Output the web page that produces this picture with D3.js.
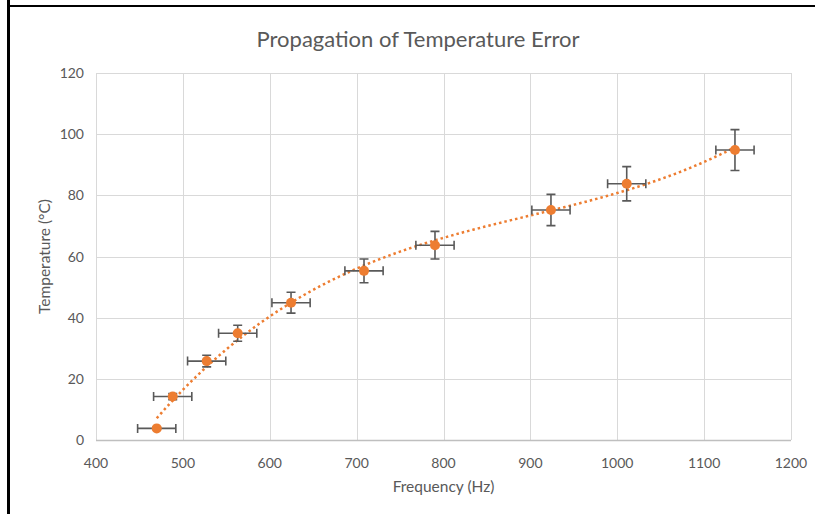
<!DOCTYPE html>
<html>
<head>
<meta charset="utf-8">
<script src="https://cdn.jsdelivr.net/npm/d3@7"></script>
<style>
  html, body { margin: 0; padding: 0; background: #fff; }
  svg { display: block; font-family: Lato, "Open Sans", sans-serif; }
  .grid line { stroke: #d9d9d9; stroke-width: 1; }
  .tick-label { fill: #595959; font-size: 14px; }
  .axis-title { fill: #595959; font-size: 15.5px; }
  .title { fill: #595959; font-size: 22px; }
</style>
</head>
<body>
<div id="chart"></div>
<script>
// values
const freq = [469.9, 488.3, 527.4, 563.1, 624.5, 708.5, 790.2, 923.7, 1010.9, 1135.5]
const temp = [3.8, 14.2, 25.8, 34.9, 44.9, 55.3, 63.7, 75.2, 83.8, 94.8]
const freqErr = [22, 22, 22, 22, 22, 22, 22, 22, 22, 22]
const tempErr = [0.3, 1.0, 1.9, 2.6, 3.4, 3.9, 4.5, 5.1, 5.6, 6.7]
const xTicks = [400, 500, 600, 700, 800, 900, 1000, 1100, 1200]
const yTicks = [0, 20, 40, 60, 80, 100, 120]

const width = 815, height = 514
const margin = { left: 96, right: 24, top: 73, bottom: 74 }

const svg = d3.select('#chart').append('svg')
  .attr('width', width)
  .attr('height', height)

const x = d3.scaleLinear().domain([400, 1200]).range([margin.left, width - margin.right])
const y = d3.scaleLinear().domain([0, 120]).range([height - margin.bottom, margin.top])

// frame (black edges of the screenshot)
svg.append('line').attr('x1', 8.5).attr('x2', 8.5).attr('y1', 0).attr('y2', height)
  .attr('stroke', '#000').attr('stroke-width', 3)
svg.append('line').attr('x1', 7).attr('x2', width).attr('y1', 6).attr('y2', 6)
  .attr('stroke', '#000').attr('stroke-width', 2)

// gridlines
const grid = svg.append('g').attr('class', 'grid')
grid.selectAll('.gx').data(xTicks).enter().append('line')
  .attr('x1', d => Math.round(x(d)) + 0.5).attr('x2', d => Math.round(x(d)) + 0.5)
  .attr('y1', y(120)).attr('y2', y(0))
grid.selectAll('.gy').data(yTicks.filter(d => d > 0)).enter().append('line')
  .attr('x1', x(400)).attr('x2', x(1200))
  .attr('y1', d => Math.round(y(d)) + 0.5).attr('y2', d => Math.round(y(d)) + 0.5)

// x axis line
svg.append('line')
  .attr('x1', x(400)).attr('x2', x(1200))
  .attr('y1', Math.round(y(0)) + 0.5).attr('y2', Math.round(y(0)) + 0.5)
  .attr('stroke', '#bfbfbf').attr('stroke-width', 1.5)

// tick labels
svg.selectAll('.xl').data(xTicks).enter().append('text')
  .attr('class', 'tick-label')
  .attr('x', d => x(d)).attr('y', y(0) + 28)
  .attr('text-anchor', 'middle')
  .text(d => d)
svg.selectAll('.yl').data(yTicks).enter().append('text')
  .attr('class', 'tick-label')
  .attr('x', x(400) - 12).attr('y', d => y(d) + 5)
  .attr('text-anchor', 'end')
  .text(d => d)

// titles
svg.append('text').attr('class', 'title')
  .attr('x', 418).attr('y', 47)
  .attr('text-anchor', 'middle')
  .text('Propagation of Temperature Error')
svg.append('text').attr('class', 'axis-title')
  .attr('x', (x(400) + x(1200)) / 2).attr('y', 492)
  .attr('text-anchor', 'middle')
  .text('Frequency (Hz)')
svg.append('text').attr('class', 'axis-title')
  .attr('transform', `translate(50,${(y(0) + y(120)) / 2}) rotate(-90)`)
  .attr('text-anchor', 'middle')
  .text('Temperature (°C)')

// cubic least-squares trendline through the points
function polyFit(xs, ys, order) {
  const mx = d3.mean(xs), sx = d3.deviation(xs)
  const t = xs.map(v => (v - mx) / sx)
  const n = order + 1
  const A = Array.from({ length: n }, () => new Array(n + 1).fill(0))
  for (let i = 0; i < t.length; i++) {
    for (let r = 0; r < n; r++) {
      for (let c = 0; c < n; c++) A[r][c] += Math.pow(t[i], r + c)
      A[r][n] += ys[i] * Math.pow(t[i], r)
    }
  }
  for (let p = 0; p < n; p++) {
    let best = p
    for (let r = p + 1; r < n; r++) if (Math.abs(A[r][p]) > Math.abs(A[best][p])) best = r
    ;[A[p], A[best]] = [A[best], A[p]]
    for (let r = 0; r < n; r++) {
      if (r === p) continue
      const f = A[r][p] / A[p][p]
      for (let c = p; c <= n; c++) A[r][c] -= f * A[p][c]
    }
  }
  const coef = A.map((row, i) => row[n] / row[i])
  return v => {
    const tt = (v - mx) / sx
    return coef.reduce((s, c, i) => s + c * Math.pow(tt, i), 0)
  }
}
const fit = polyFit(freq, temp, 3)
const xs = d3.range(d3.min(freq), d3.max(freq) + 0.5, 2)
svg.append('path')
  .datum(xs)
  .attr('fill', 'none')
  .attr('stroke', '#ed7d31')
  .attr('stroke-width', 2.5)
  .attr('stroke-dasharray', '2.5 3')
  .attr('d', d3.line().x(d => x(d)).y(d => y(fit(d))).curve(d3.curveLinear))

// error bars
const pts = freq.map((f, i) => ({ f, t: temp[i], fe: freqErr[i], te: tempErr[i] }))
const eb = svg.append('g').attr('stroke', '#595959').attr('stroke-width', 1.6).attr('fill', 'none')
const cap = 4.5
pts.forEach(p => {
  const cx = x(p.f), cy = y(p.t)
  const x0 = x(p.f - p.fe), x1 = x(p.f + p.fe)
  const y0 = y(p.t - p.te), y1 = y(p.t + p.te)
  eb.append('path').attr('d',
    `M${x0},${cy}H${x1}M${x0},${cy - cap}V${cy + cap}M${x1},${cy - cap}V${cy + cap}` +
    `M${cx},${y0}V${y1}M${cx - cap},${y0}H${cx + cap}M${cx - cap},${y1}H${cx + cap}`)
})

// markers
svg.selectAll('.pt').data(pts).enter().append('circle')
  .attr('cx', d => x(d.f)).attr('cy', d => y(d.t))
  .attr('r', 5)
  .attr('fill', '#ed7d31')
</script>
</body>
</html>
